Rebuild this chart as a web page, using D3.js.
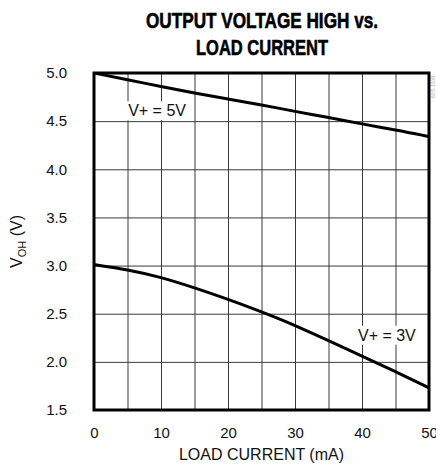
<!DOCTYPE html>
<html lang="en">
<head>
    <meta charset="UTF-8">
    <title>Output Voltage High vs. Load Current</title>
    <script src="https://d3js.org/d3.v7.min.js"></script>
    <style>
        html, body {
            margin: 0;
            padding: 0;
            background: #fff;
        }
        svg {
            display: block;
            font-family: "Liberation Sans", Arial, Helvetica, sans-serif;
        }
        .grid line {
            stroke: #3a3a3a;
            stroke-width: 1;
        }
        .grid .domain {
            display: none;
        }
        .labels .domain, .labels line {
            display: none;
        }
        .labels text {
            font-size: 15px;
            fill: #111;
        }
        .curve {
            fill: none;
            stroke: #000;
            stroke-width: 3;
        }
    </style>
</head>
<body>
    <script>
        // values
        const loadCurrent = [0, 5, 10, 15, 20, 25, 30, 35, 40, 45, 50];           // mA
        const vohSupply5 = [5.0, 4.93, 4.86, 4.79, 4.73, 4.67, 4.60, 4.54, 4.47, 4.41, 4.34];
        const vohSupply3 = [3.01, 2.96, 2.88, 2.77, 2.65, 2.52, 2.38, 2.22, 2.06, 1.90, 1.73];
        const xTickLabels = [0, 10, 20, 30, 40, 50];
        const yTickLabels = [1.5, 2.0, 2.5, 3.0, 3.5, 4.0, 4.5, 5.0];
        const xGrid = [5, 10, 15, 20, 25, 30, 35, 40, 45];
        const yGrid = [2.0, 2.5, 3.0, 3.5, 4.0, 4.5];

        const W = 436, H = 470;
        const pLeft = 94, pRight = 429, pTop = 73, pBottom = 410;

        const svg = d3.select("body").append("svg")
            .attr("width", W)
            .attr("height", H);

        const x = d3.scaleLinear().domain([0, 50]).range([pLeft, pRight]);
        const y = d3.scaleLinear().domain([1.5, 5.0]).range([pBottom, pTop]);

        // title (condensed heavy face imitated by squeezing bold text)
        const title = svg.append("text")
            .attr("text-anchor", "middle")
            .attr("font-weight", 900)
            .attr("font-size", 22)
            .attr("fill", "#000")
            .attr("stroke", "#000")
            .attr("stroke-width", 0.6);
        title.append("tspan").attr("x", 262).attr("y", 28)
            .attr("textLength", 232).attr("lengthAdjust", "spacingAndGlyphs")
            .text("OUTPUT VOLTAGE HIGH vs.");
        title.append("tspan").attr("x", 262).attr("y", 55)
            .attr("textLength", 132).attr("lengthAdjust", "spacingAndGlyphs")
            .text("LOAD CURRENT");

        // grid
        svg.append("g").attr("class", "grid")
            .attr("transform", `translate(0,${pBottom})`)
            .call(d3.axisBottom(x).tickValues(xGrid).tickSize(-(pBottom - pTop)).tickFormat(""));
        svg.append("g").attr("class", "grid")
            .attr("transform", `translate(${pLeft},0)`)
            .call(d3.axisLeft(y).tickValues(yGrid).tickSize(-(pRight - pLeft)).tickFormat(""));

        // tick labels
        svg.append("g").attr("class", "labels")
            .attr("transform", `translate(0,${pBottom})`)
            .call(d3.axisBottom(x).tickValues(xTickLabels).tickSize(0).tickPadding(17).tickFormat(d3.format("d")));
        svg.append("g").attr("class", "labels")
            .attr("transform", `translate(${pLeft},0)`)
            .call(d3.axisLeft(y).tickValues(yTickLabels).tickSize(0).tickPadding(27).tickFormat(d3.format(".1f")));

        // axis titles
        svg.append("text")
            .attr("x", (pLeft + pRight) / 2)
            .attr("y", 460)
            .attr("text-anchor", "middle")
            .attr("font-size", 16)
            .attr("fill", "#111")
            .text("LOAD CURRENT (mA)");

        const yTitle = svg.append("text")
            .attr("transform", `translate(22,${(pTop + pBottom) / 2}) rotate(-90)`)
            .attr("text-anchor", "middle")
            .attr("font-size", 16)
            .attr("fill", "#111");
        yTitle.append("tspan").text("V");
        yTitle.append("tspan").attr("font-size", 11).attr("dy", 4).text("OH");
        yTitle.append("tspan").attr("dy", -4).text(" (V)");

        // curves
        svg.append("clipPath").attr("id", "plot")
            .append("rect")
            .attr("x", pLeft).attr("y", pTop)
            .attr("width", pRight - pLeft).attr("height", pBottom - pTop);

        const line = d3.line()
            .x((d, i) => x(loadCurrent[i]))
            .y(d => y(d))
            .curve(d3.curveBasis);

        const curves = svg.append("g").attr("clip-path", "url(#plot)");
        curves.append("path").attr("class", "curve").attr("d", line(vohSupply5));
        curves.append("path").attr("class", "curve").attr("d", line(vohSupply3));

        // curve labels on white patches
        function curveLabel(xv, yv, txt) {
            const g = svg.append("g");
            const t = g.append("text")
                .attr("x", x(xv))
                .attr("y", y(yv))
                .attr("font-size", 16)
                .attr("fill", "#111")
                .text(txt);
            const b = t.node().getBBox();
            g.insert("rect", "text")
                .attr("x", b.x - 2).attr("y", b.y - 1)
                .attr("width", b.width + 4).attr("height", b.height + 2)
                .attr("fill", "#fff");
        }
        curveLabel(5.1, 4.55, "V+ = 5V");
        curveLabel(39.4, 2.22, "V+ = 3V");

        // frame
        svg.append("rect")
            .attr("x", pLeft).attr("y", pTop)
            .attr("width", pRight - pLeft).attr("height", pBottom - pTop)
            .attr("fill", "none")
            .attr("stroke", "#000")
            .attr("stroke-width", 3);

        // figure code along the right edge
        svg.append("text")
            .attr("transform", `translate(431,76) rotate(90)`)
            .attr("font-size", 5)
            .attr("fill", "#aaa")
            .text("6001 G09");
    </script>
</body>
</html>
